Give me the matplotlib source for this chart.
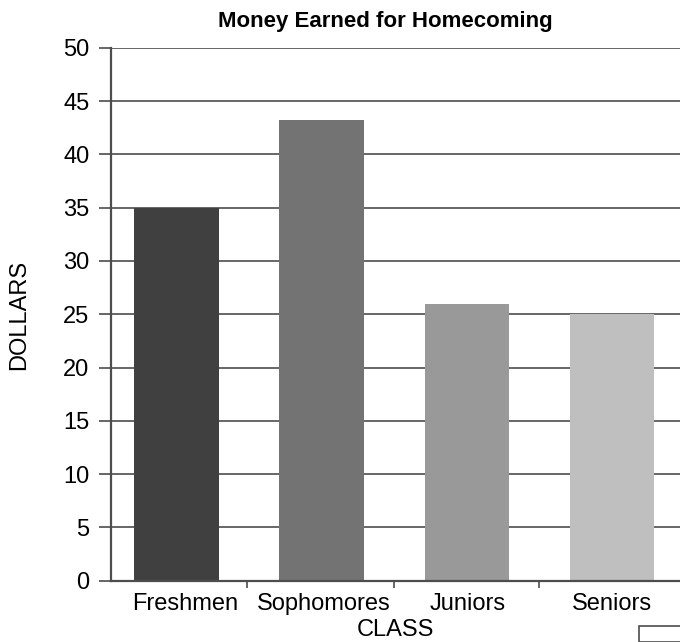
import matplotlib.pyplot as plt
from matplotlib.patches import Rectangle

plt.rcParams['font.family'] = ['Liberation Sans', 'DejaVu Sans']

classes = ['Freshmen', 'Sophomores', 'Juniors', 'Seniors']
dollars = [35, 43.2, 26, 25]
bar_colors = ['#404040', '#737373', '#999999', '#bfbfbf']
y_ticks = list(range(0, 51, 5))

fig = plt.figure(figsize=(6.8, 6.42), dpi=100)
ax = fig.add_axes([111 / 680, 1 - 580.7 / 642, 1 - 111 / 680, (580.7 - 47.7) / 642])

ax.set_axisbelow(True)
ax.yaxis.grid(True, color='#4d4d4d', linewidth=1.2)
ax.bar(range(len(classes)), dollars, width=0.586, color=bar_colors, zorder=2)

ax.set_ylim(0, 50)
ax.set_xlim(-0.455, 3.469)
ax.set_yticks(y_ticks)
# labels sit a little off the bar centres in the original
ax.set_xticks([0.055, 1.014, 2.007, 3.0])
ax.set_xticklabels(classes)
ax.set_xticks([0.48, 1.5, 2.5], minor=True)

ax.tick_params(axis='y', length=8.6, width=1.2, color='#4d4d4d', pad=7, labelsize=17)
ax.tick_params(axis='x', which='major', length=0, pad=9, labelsize=17)
ax.tick_params(axis='x', which='minor', length=5, width=1.2, color='#4d4d4d')

for s in ['top', 'right']:
    ax.spines[s].set_visible(False)
for s in ['left', 'bottom']:
    ax.spines[s].set_color('#4d4d4d')
    ax.spines[s].set_linewidth(1.6)

fig.text(385 / 680, 1 - 21 / 642, 'Money Earned for Homecoming', ha='center', va='center',
         fontsize=16, fontweight='bold')
fig.text(395 / 680, 1 - 630 / 642, 'CLASS', ha='center', va='center', fontsize=17)
fig.text(19 / 680, 1 - 315 / 642, 'DOLLARS', ha='center', va='center', rotation=90, fontsize=17)

# partly visible box in the lower right corner
fig.patches.append(Rectangle((639 / 680, 0), 60 / 680, (642 - 626) / 642,
                             transform=fig.transFigure, fill=False,
                             edgecolor='#4d4d4d', linewidth=1.2))

fig.savefig('out.png', dpi=100)
